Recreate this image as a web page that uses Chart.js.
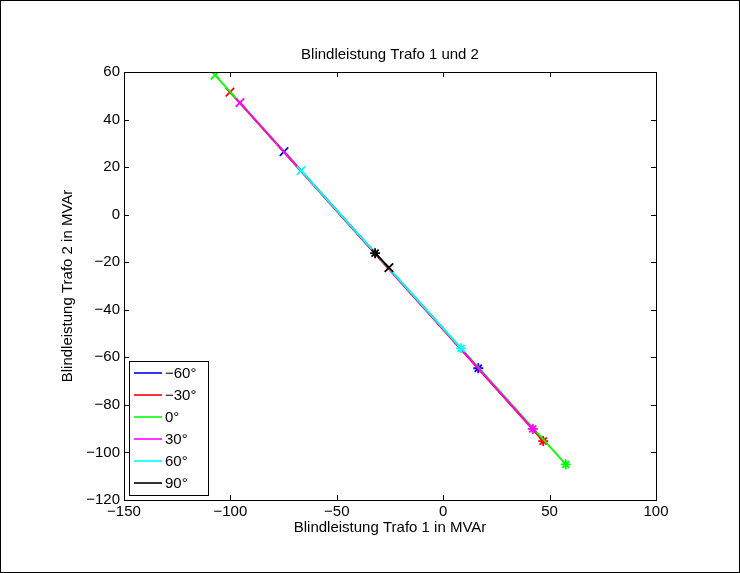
<!DOCTYPE html>
<html>
<head>
<meta charset="utf-8">
<title>Blindleistung Trafo 1 und 2</title>
<script src="https://cdn.jsdelivr.net/npm/chart.js@4.4.1/dist/chart.umd.min.js"></script>
<style>
  body { margin: 0; background: #fff; }
  canvas { display: block; }
</style>
</head>
<body>
<canvas id="chart" width="740" height="573"></canvas>
<script>
// phase angles (legend)
const angles = ["\u221260°", "\u221230°", "0°", "30°", "60°", "90°"];

// start point of each line (x marker) and end point (* marker), MVAr
const startQ1 = [-74.8, -100.2, -107.2, -95.5, -66.8, -25.5];
const startQ2 = [26.5, 51.5, 58.7, 47.1, 18.5, -22.3];
const endQ1 = [16.5, 47.0, 57.6, 42.1, 8.4, -32.0];
const endQ2 = [-64.6, -95.2, -105.0, -90.1, -56.2, -16.2];

const xTicks = [-150, -100, -50, 0, 50, 100];
const yTicks = [-120, -100, -80, -60, -40, -20, 0, 20, 40, 60];

const colors = ["#0000ff", "#ff0000", "#00ff00", "#ff00ff", "#00ffff", "#000000"];
const font = "'Liberation Sans', Arial, Helvetica, sans-serif";

function minus(v) {
  return String(v).replace("-", "\u2212");
}

const datasets = angles.map((label, i) => ({
  label: label,
  data: [
    { x: startQ1[i], y: startQ2[i] },
    { x: endQ1[i], y: endQ2[i] }
  ],
  borderColor: colors[i],
  backgroundColor: colors[i],
  borderWidth: 1.8,
  pointStyle: ["crossRot", "star"],
  pointRadius: [6, 5],
  pointBorderWidth: 1.8,
  pointBorderColor: colors[i],
  showLine: true,
  order: angles.length - 1 - i // later angles on top, like matlab
}));

// axes box, inward ticks on all sides, legend and figure frame
const matlabAxes = {
  id: "matlabAxes",
  afterDraw(chart) {
    const ctx = chart.ctx;
    const a = chart.chartArea;
    const xs = chart.scales.x;
    const ys = chart.scales.y;
    const tl = 5;

    ctx.save();
    ctx.strokeStyle = "#000";
    ctx.lineWidth = 1;
    ctx.beginPath();
    xTicks.forEach(v => {
      const px = Math.round(xs.getPixelForValue(v)) + 0.5;
      ctx.moveTo(px, a.bottom); ctx.lineTo(px, a.bottom - tl);
      ctx.moveTo(px, a.top); ctx.lineTo(px, a.top + tl);
    });
    yTicks.forEach(v => {
      const py = Math.round(ys.getPixelForValue(v)) + 0.5;
      ctx.moveTo(a.left, py); ctx.lineTo(a.left + tl, py);
      ctx.moveTo(a.right, py); ctx.lineTo(a.right - tl, py);
    });
    ctx.stroke();
    ctx.strokeRect(Math.round(a.left) + 0.5, Math.round(a.top) + 0.5,
      Math.round(a.right - a.left), Math.round(a.bottom - a.top));

    // legend, south west
    const lx = a.left + 5, ly = 361, lw = 79, lh = a.bottom - 5 - 361;
    ctx.fillStyle = "#fff";
    ctx.fillRect(lx, ly, lw, lh);
    ctx.strokeRect(lx + 0.5, ly + 0.5, lw, lh);
    ctx.font = "15px " + font;
    ctx.textBaseline = "middle";
    ctx.textAlign = "left";
    chart.data.datasets.forEach((ds, i) => {
      const y = ly + 12 + i * 22;
      ctx.strokeStyle = ds.borderColor;
      ctx.lineWidth = 1.6;
      ctx.beginPath();
      ctx.moveTo(lx + 5, y); ctx.lineTo(lx + 33, y);
      ctx.stroke();
      ctx.fillStyle = "#000";
      ctx.fillText(ds.label, lx + 36, y + 1);
    });

    ctx.strokeStyle = "#000";
    ctx.lineWidth = 1;
    ctx.strokeRect(0.5, 0.5, chart.width - 1, chart.height - 1);
    ctx.restore();
  }
};

const ctx = document.getElementById("chart").getContext("2d");

new Chart(ctx, {
  type: "scatter",
  data: { datasets: datasets },
  plugins: [matlabAxes],
  options: {
    responsive: false,
    animation: false,
    layout: { padding: { left: 0, right: 84, top: 0, bottom: 0 } },
    plugins: {
      legend: { display: false },
      tooltip: { enabled: false },
      title: {
        display: true,
        text: "Blindleistung Trafo 1 und 2",
        fullSize: false,
        color: "#000",
        font: { family: font, size: 15, weight: "normal" },
        padding: { top: 46, bottom: 8 }
      }
    },
    scales: {
      x: {
        type: "linear",
        min: -150,
        max: 100,
        afterFit: s => { s.height = 73; },
        afterBuildTicks: s => { s.ticks = xTicks.map(v => ({ value: v })); },
        grid: { display: true, drawOnChartArea: false, drawTicks: false },
        border: { display: false },
        ticks: {
          color: "#000",
          padding: 3,
          font: { family: font, size: 15 },
          maxRotation: 0,
          callback: v => minus(v)
        },
        title: {
          display: true,
          text: "Blindleistung Trafo 1 in MVAr",
          color: "#000",
          font: { family: font, size: 15 },
          padding: { top: 0, bottom: 36 }
        }
      },
      y: {
        type: "linear",
        min: -120,
        max: 60,
        afterFit: s => { s.width = 124; },
        afterBuildTicks: s => { s.ticks = yTicks.map(v => ({ value: v })); },
        grid: { display: true, drawOnChartArea: false, drawTicks: false },
        border: { display: false },
        ticks: {
          color: "#000",
          padding: 4,
          font: { family: font, size: 15 },
          callback: v => minus(v)
        },
        title: {
          display: true,
          text: "Blindleistung Trafo 2 in MVAr",
          color: "#000",
          font: { family: font, size: 15 },
          padding: { top: 59, bottom: 0 }
        }
      }
    }
  }
});
</script>
</body>
</html>
